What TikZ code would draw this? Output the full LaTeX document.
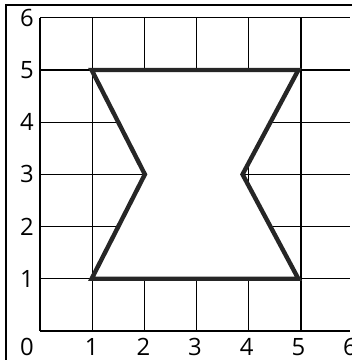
\documentclass[tikz,border=0pt]{standalone}
\usepackage{fontspec}
\setmainfont{Open Sans}
\usepackage{tikz}

\begin{document}
\begin{tikzpicture}[x=0.99cm,y=1cm,
    gridline/.style={black,line width=0.7pt},
    shapeline/.style={black!85,line width=2.4pt,line join=miter},
    axislabel/.style={font=\fontsize{13}{15}\selectfont,inner sep=0pt}]
\useasboundingbox (-0.766cm,-0.556cm) rectangle (5.977cm,6.341cm);
\clip (-0.766cm,-0.556cm) rectangle (5.977cm,6.341cm);

% outer frame
\draw[line width=1.1pt] (-0.651cm,-2cm) rectangle (8cm,6.245cm);

\draw[gridline] (0,0) grid (6,6);

\foreach \x in {1,2,3,4,5,6}
   \node[axislabel] (xl\x) at (\x,-0.31) {\x};
\foreach \y in {1,2,3,4,5,6}
    \node[axislabel] (yl\y) at (-0.253,\y) {\y};
\node[axislabel] (origin) at (-0.253,-0.31) {0};

% the shape
\coordinate (a) at (1,5);
\coordinate (b) at (5,5);
\coordinate (c) at (3.92,3);
\coordinate (d) at (5,1);
\coordinate (e) at (1,1);
\coordinate (f) at (2.03,3);
\draw[shapeline,fill=white] (a) -- (b) -- (c) -- (d) -- (e) -- (f) -- cycle;
\end{tikzpicture}
\end{document}
